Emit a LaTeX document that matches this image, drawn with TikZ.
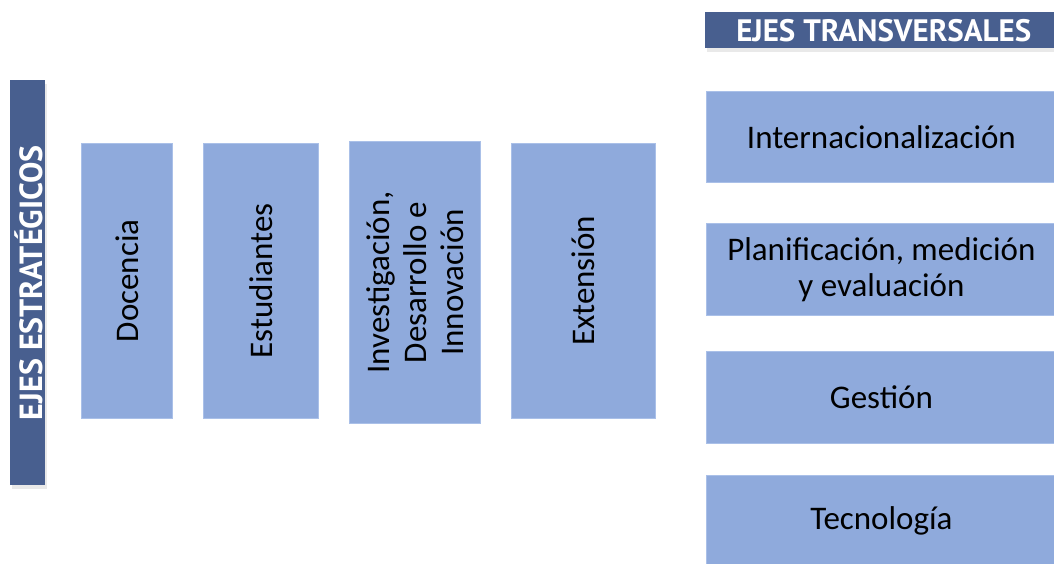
\documentclass[tikz,border=0pt]{standalone}
\usepackage{fontspec}
\setmainfont{Carlito}
\newfontfamily\headfont{PT Sans}
\definecolor{darkbar}{RGB}{72,95,143}
\definecolor{lightbox}{RGB}{143,170,220}
\definecolor{lightedge}{RGB}{170,192,232}
\begin{document}
\begin{tikzpicture}[x=1pt,y=-1pt,
  bar/.style={draw=none,fill=darkbar,inner sep=0pt,anchor=north west},
  shade/.style={draw=none,fill=black!25,opacity=0.35,inner sep=0pt,anchor=north west},
  axbox/.style={draw=lightedge,line width=0.8pt,fill=lightbox,inner sep=0pt,anchor=north west},
  boxtext/.style={font=\fontsize{33}{36}\selectfont,text=black,align=center,inner sep=0pt},
  headtext/.style={font=\headfont\bfseries\fontsize{31}{34}\selectfont,text=white,inner sep=0pt}]
\useasboundingbox (0,0) rectangle (1054,563);
% shadows
\node[shade,minimum width=35pt,minimum height=405pt] at (12,84) {};
\node[shade,minimum width=349pt,minimum height=36pt] at (707,16) {};
% left dark bar
\node[bar,minimum width=35pt,minimum height=405pt] (left) at (10,80) {};
\node[headtext,rotate=90,font=\headfont\bfseries\fontsize{32}{34}\selectfont] (lefttxt) at ([xshift=1pt]left.center) {EJES ESTRATÉGICOS};
% header
\node[bar,minimum width=349pt,minimum height=36pt] (head) at (705,12) {};
\node[headtext] (headtxt) at ([xshift=4pt]head.center) {EJES TRANSVERSALES};
% vertical boxes
\node[axbox,minimum width=91pt,minimum height=275pt] (doc) at (81,143) {};
\node[boxtext,rotate=90] (doctxt) at (doc.center) {Docencia};
\node[axbox,minimum width=115pt,minimum height=275pt] (est) at (203,143) {};
\node[boxtext,rotate=90] (esttxt) at (est.center) {Estudiantes};
\node[axbox,minimum width=131pt,minimum height=282pt] (inv) at (349,141) {};
\node[boxtext,rotate=90,font=\fontsize{33}{37}\selectfont] (invtxt) at (inv.center) {Investigación,\\Desarrollo e\\Innovación};
\node[axbox,minimum width=144pt,minimum height=275pt] (ext) at (511,143) {};
\node[boxtext,rotate=90] (exttxt) at (ext.center) {Extensión};
% horizontal boxes
\node[axbox,minimum width=350pt,minimum height=91pt] (int) at (706,91) {};
\node[boxtext] (inttxt) at (int.center) {Internacionalización};
\node[axbox,minimum width=350pt,minimum height=92pt] (pla) at (706,223) {};
\node[boxtext] (platxt) at (pla.center) {Planificación, medición\\y evaluación};
\node[axbox,minimum width=350pt,minimum height=92pt] (ges) at (706,351) {};
\node[boxtext] (gestxt) at (ges.center) {Gestión};
\node[axbox,minimum width=350pt,minimum height=90pt] (tec) at (706,475) {};
\node[boxtext] (tectxt) at (tec.center) {Tecnología};
\end{tikzpicture}
\end{document}
